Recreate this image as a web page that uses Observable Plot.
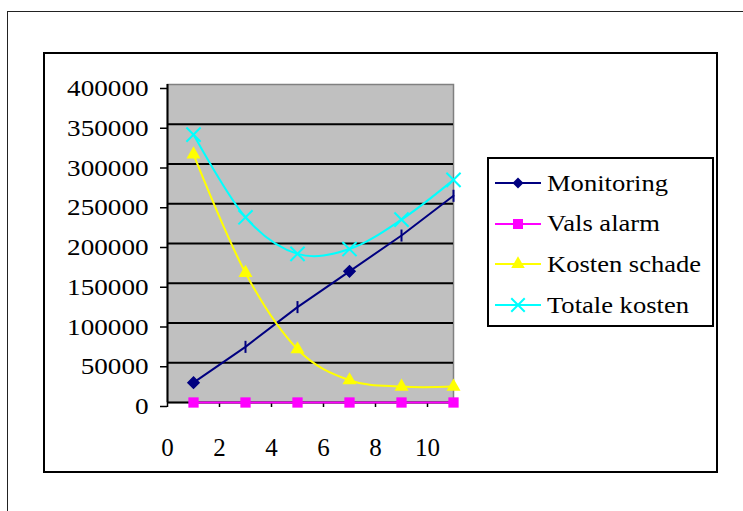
<!DOCTYPE html>
<html>
<head>
<meta charset="utf-8">
<script src="https://cdn.jsdelivr.net/npm/d3@7"></script>
<script src="https://cdn.jsdelivr.net/npm/@observablehq/plot@0.6"></script>
<style>
  html, body { margin: 0; padding: 0; background: #fff; overflow: hidden; width: 743px; height: 511px; }
  #outer { position: absolute; left: 7px; top: 10.5px; width: 900px; height: 700px; border: 1.6px solid #222; box-sizing: border-box; }
  #inner { position: absolute; left: 43px; top: 52px; width: 675px; height: 421px; border: 2.5px solid #000; box-sizing: border-box; }
  #chart { position: absolute; left: 0; top: 0; }
  #legend { position: absolute; left: 487px; top: 157px; width: 227px; height: 170px; border: 2.5px solid #000; box-sizing: border-box; background: #fff; color: #000; }
  .row { position: absolute; left: 0; height: 30px; display: flex; align-items: center; white-space: nowrap; }
  .row svg { display: block; margin-left: 6px; margin-right: 6px; }
  .row span { display: inline-block; transform: scaleX(1.13); transform-origin: 0 50%; }
</style>
</head>
<body>
<div id="outer"></div>
<div id="inner"></div>
<div id="chart"></div>
<div id="legend"></div>
<script>
// ---- data ----
const xValues = [1, 3, 5, 7, 9, 11];
const monitoring = [25000, 70000, 120000, 165000, 210000, 260000];
const valsAlarm = [0, 0, 0, 0, 0, 0];
const kostenSchade = [312000, 163000, 67000, 28000, 20000, 20000];
const totaleKosten = [337000, 233000, 187000, 193000, 230000, 280000];
const seriesNames = ["Monitoring", "Vals alarm", "Kosten schade", "Totale kosten"];
const xTicks = [0, 2, 4, 6, 8, 10];
const yTicks = [0, 50000, 100000, 150000, 200000, 250000, 300000, 350000, 400000];

// ---- styling ----
const colors = {"Monitoring": "#000080", "Vals alarm": "#ff00ff", "Kosten schade": "#ffff00", "Totale kosten": "#00ffff"};
const serif = "'Liberation Serif'";

const seriesValues = [monitoring, valsAlarm, kostenSchade, totaleKosten];
const data = seriesNames.flatMap((name, s) => xValues.map((x, i) => ({series: name, x, y: seriesValues[s][i], i})));
const of = name => data.filter(d => d.series === name);

const barSymbol = {draw(ctx, size) { const h = Math.sqrt(size) / 2; ctx.moveTo(0, -h); ctx.lineTo(0, h); }};

const chart = Plot.plot({
  width: 743,
  height: 511,
  marginLeft: 167,
  marginRight: 290,
  marginTop: 84,
  marginBottom: 109,
  x: {domain: [0, 11]},
  y: {domain: [0, 400000]},
  style: {background: "transparent", fontFamily: serif, color: "#000", overflow: "visible"},
  marks: [
    Plot.frame({fill: "#c0c0c0", stroke: "#808080", strokeWidth: 1.5}),
    Plot.ruleY(yTicks.filter(d => d > 0 && d < 400000), {stroke: "#000", strokeWidth: 2}),
    Plot.axisY({ticks: yTicks, label: null, tickSize: 7, tickPadding: 12, fontSize: 24, tickFormat: d => String(d), strokeWidth: 1.5, dy: 4}),
    Plot.axisX({ticks: xTicks, label: null, tickSize: 5, tickPadding: 31, fontSize: 25, tickFormat: d => String(d), strokeWidth: 1.5}),
    Plot.ruleX([0], {stroke: "#000", strokeWidth: 2}),
    Plot.ruleY([0], {stroke: "#000", strokeWidth: 2}),
    // lines
    Plot.line(of("Vals alarm"), {x: "x", y: "y", stroke: colors["Vals alarm"], strokeWidth: 2}),
    Plot.line(of("Monitoring"), {x: "x", y: "y", stroke: colors["Monitoring"], strokeWidth: 2}),
    Plot.line(of("Kosten schade"), {x: "x", y: "y", stroke: colors["Kosten schade"], strokeWidth: 2, curve: "catmull-rom", tension: 0}),
    Plot.line(of("Totale kosten"), {x: "x", y: "y", stroke: colors["Totale kosten"], strokeWidth: 2, curve: "catmull-rom", tension: 0}),
    // markers
    Plot.dot(of("Vals alarm"), {x: "x", y: "y", symbol: "square", r: 5.8, fill: colors["Vals alarm"]}),
    Plot.dot(of("Kosten schade"), {x: "x", y: "y", symbol: "triangle", r: 5.2, fill: colors["Kosten schade"]}),
    Plot.dot(of("Totale kosten"), {x: "x", y: "y", symbol: "times", r: 6.5, stroke: colors["Totale kosten"], strokeWidth: 2, fill: "none"}),
    Plot.dot(of("Monitoring").filter(d => d.i === 0 || d.i === 3), {x: "x", y: "y", symbol: "diamond2", r: 5, fill: colors["Monitoring"], stroke: colors["Monitoring"]}),
    Plot.dot(of("Monitoring").filter(d => !(d.i === 0 || d.i === 3)), {x: "x", y: "y", symbol: barSymbol, r: 6.8, stroke: colors["Monitoring"], strokeWidth: 2, fill: "none"})
  ]
});
document.getElementById("chart").appendChild(chart);
chart.querySelectorAll("text").forEach(t => t.setAttribute("style", "font-family: 'Liberation Serif'"));
// the reference's y tick labels are slightly wider than the face: stretch them a little
chart.querySelectorAll('g[aria-label="y-axis tick label"] text').forEach(t => {
  const w = t.getComputedTextLength();
  t.setAttribute("textLength", (w * 1.13).toFixed(1));
  t.setAttribute("lengthAdjust", "spacingAndGlyphs");
});

// ---- legend ----
const legendSymbols = {"Monitoring": d3.symbolDiamond2, "Vals alarm": d3.symbolSquare, "Kosten schade": d3.symbolTriangle, "Totale kosten": d3.symbolTimes};
const legendSizes = {"Monitoring": 78, "Vals alarm": 100, "Kosten schade": 80, "Totale kosten": 120};
const legend = d3.select("#legend");
seriesNames.forEach((name, i) => {
  const row = legend.append("div").attr("class", "row").style("top", (9 + i * 40.7) + "px");
  const svg = row.append("svg").attr("width", 46).attr("height", 20);
  svg.append("line").attr("x1", 0).attr("x2", 46).attr("y1", 10).attr("y2", 10).attr("stroke", colors[name]).attr("stroke-width", 2);
  const isStroke = name === "Totale kosten";
  svg.append("path").attr("transform", "translate(23,10)")
    .attr("d", d3.symbol(legendSymbols[name], legendSizes[name])())
    .attr("fill", isStroke ? "none" : colors[name])
    .attr("stroke", isStroke ? colors[name] : "none")
    .attr("stroke-width", 2);
  row.append("span").attr("style", "font-family:'Liberation Serif';font-size:23.5px").text(name);
});
</script>
</body>
</html>
